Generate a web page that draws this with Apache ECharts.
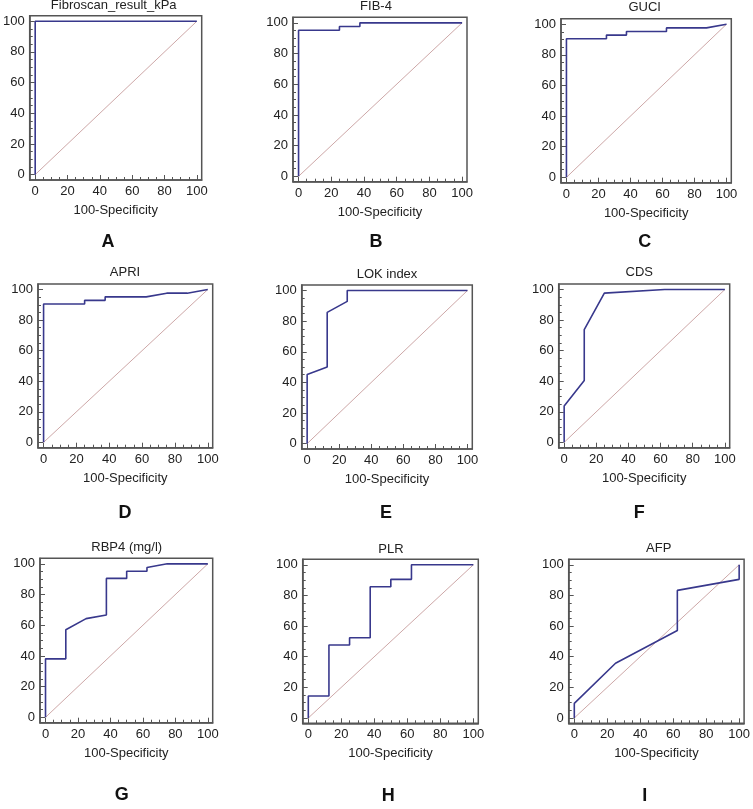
<!DOCTYPE html>
<html>
<head>
<meta charset="utf-8">
<script src="https://cdn.jsdelivr.net/npm/echarts@6/dist/echarts.min.js"></script>
<style>html,body{margin:0;padding:0;background:#fff}#c{width:753px;height:809px}</style>
</head>
<body>
<div id="c"></div>
<script>
// Panel names and letters
const panelNames = ['Fibroscan_result_kPa','FIB-4','GUCI','APRI','LOK index','CDS','RBP4 (mg/l)','PLR','AFP'];
const panelLetters = ['A','B','C','D','E','F','G','H','I'];
const axisXName = '100-Specificity';
const tickValues = [0,20,40,60,80,100];
const minorTickValues = [0,5,10,15,20,25,30,35,40,45,50,55,60,65,70,75,80,85,90,95,100];

// ROC curves: [100-Specificity, Sensitivity]
const fibroscan = [[0,0],[0,100],[100,100]];
const fib4 = [[0,0],[0,95.2],[25,95.2],[25,97.6],[37.5,97.6],[37.5,100],[100,100]];
const guci = [[0,0],[0,90.5],[25,90.5],[25,92.9],[37.5,92.9],[37.5,95.2],[62.5,95.2],[62.5,97.6],[87.5,97.6],[100,100]];
const apri = [[0,0],[0,90.5],[25,90.5],[25,92.9],[37.5,92.9],[37.5,95.2],[62.5,95.2],[75,97.6],[87.5,97.6],[100,100]];
const lok = [[0,0],[0,45.2],[12.5,50],[12.5,85.7],[25,92.9],[25,100],[100,100]];
const cds = [[0,0],[0,23.8],[12.5,40.5],[12.5,73.8],[25,97.6],[62.5,100],[100,100]];
const rbp4 = [[0,0],[0,38.1],[12.5,38.1],[12.5,57.1],[25,64.3],[37.5,66.7],[37.5,90.5],[50,90.5],[50,95.2],[62.5,95.2],[62.5,97.6],[75,100],[100,100]];
const plr = [[0,0],[0,14.3],[12.5,14.3],[12.5,47.6],[25,47.6],[25,52.4],[37.5,52.4],[37.5,85.7],[50,85.7],[50,90.5],[62.5,90.5],[62.5,100],[100,100]];
const afp = [[0,0],[0,9.5],[25,35.7],[62.5,57.1],[62.5,83.3],[100,90.5],[100,100]];
const reference = [[0,0],[100,100]];
const curves = [fibroscan, fib4, guci, apri, lok, cds, rbp4, plr, afp];

// Layout (pixels): grid left, top, width, height
const layout = [
  [25.7,15.7,176,164.3],[293,17.3,174,164.4],[561,18.7,170.3,164],
  [38,284,174.7,163.7],[301.7,285,170.6,164],[558.7,284,171,163.7],
  [40,558.3,172.7,164.4],[302.7,559.3,175.6,164],[568.7,559.3,178.3,164]
];
const titlePos = [[113.7,5],[376,6],[644.7,7.3],[125,272.7],[387,274],[639.3,272.7],[126.7,547.3],[391,549],[658.7,548.3]];
const letterPos = [[108,242],[376,242],[644.7,242],[125,513],[386,513],[639.3,513],[121.7,795],[388.3,795.7],[644.7,795.7]];

const FONT = '"Liberation Sans", Arial, sans-serif';
const frame = '#555555';
const rocColor = '#38388c';
const diagColor = '#c09090';
const XMIN=-3.4, XMAX=103, YMIN=-3.5, YMAX=103.6;

const grids=[], xAxes=[], yAxes=[], series=[], graphics=[];
layout.forEach((g,i)=>{
  grids.push({left:g[0],top:g[1],width:g[2],height:g[3],show:true,borderColor:frame,borderWidth:1.5,backgroundColor:'#fff',containLabel:false});
  xAxes.push({type:'value',gridIndex:i,min:XMIN,max:XMAX,
    name:axisXName,nameLocation:'middle',nameGap:24,
    nameTextStyle:{fontFamily:FONT,fontSize:13,color:'#222'},
    axisLine:{show:true,onZero:false,lineStyle:{color:frame,width:1.5}},
    axisTick:{show:true,inside:true,length:5,customValues:tickValues,lineStyle:{color:frame,width:1}},
    axisLabel:{show:true,customValues:tickValues,margin:5,fontFamily:FONT,fontSize:13,color:'#222'},
    splitLine:{show:false}});
  yAxes.push({type:'value',gridIndex:i,min:YMIN,max:YMAX,
    axisLine:{show:true,onZero:false,lineStyle:{color:frame,width:1.5}},
    axisTick:{show:true,inside:true,length:5,customValues:tickValues,lineStyle:{color:frame,width:1}},
    axisLabel:{show:true,customValues:tickValues,margin:5,fontFamily:FONT,fontSize:13,color:'#222'},
    splitLine:{show:false}});
});
layout.forEach((g,i)=>{
  xAxes.push({type:'value',gridIndex:i,min:XMIN,max:XMAX,position:'bottom',
    axisLine:{show:false,onZero:false},
    axisTick:{show:true,inside:true,length:3,customValues:minorTickValues,lineStyle:{color:frame,width:1}},
    axisLabel:{show:false},splitLine:{show:false}});
  yAxes.push({type:'value',gridIndex:i,min:YMIN,max:YMAX,position:'left',
    axisLine:{show:false,onZero:false},
    axisTick:{show:true,inside:true,length:3,customValues:minorTickValues,lineStyle:{color:frame,width:1}},
    axisLabel:{show:false},splitLine:{show:false}});
});
curves.forEach((d,i)=>{
  series.push({type:'line',xAxisIndex:i,yAxisIndex:i,data:reference,showSymbol:false,silent:true,
    lineStyle:{color:diagColor,width:0.8},z:2,animation:false});
  series.push({type:'line',xAxisIndex:i,yAxisIndex:i,data:d,showSymbol:false,silent:true,
    lineStyle:{color:rocColor,width:1.6},z:3,animation:false});
});
panelNames.forEach((n,i)=>{
  graphics.push({type:'text',x:titlePos[i][0],y:titlePos[i][1],
    style:{text:n,fontFamily:FONT,fontSize:13,fill:'#222',align:'center',verticalAlign:'middle'}});
  graphics.push({type:'text',x:letterPos[i][0],y:letterPos[i][1],
    style:{text:panelLetters[i],fontFamily:FONT,fontSize:18,fontWeight:'bold',fill:'#111',align:'center',verticalAlign:'middle'}});
});

const chart = echarts.init(document.getElementById('c'),null,{renderer:'canvas'});
chart.setOption({animation:false,backgroundColor:'#fff',grid:grids,xAxis:xAxes,yAxis:yAxes,series:series,graphic:graphics});
</script>
</body>
</html>
